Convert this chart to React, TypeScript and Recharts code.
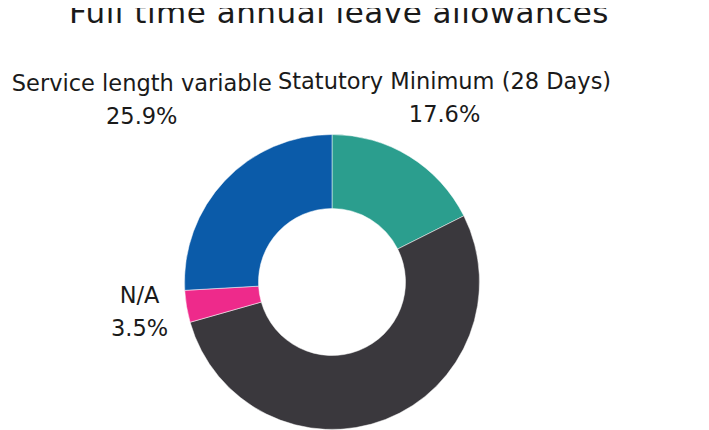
import React from "react";
import { PieChart, Pie, Cell } from "recharts";

const categories = [
  "Statutory Minimum (28 Days)",
  "Enhanced fixed allowance",
  "N/A",
  "Service length variable",
];
const shares = [17.6, 53.0, 3.5, 25.9];
const colors = ["#2b9e8e", "#3a383d", "#ee2a8b", "#0b5ba9"];
const title = "Full time annual leave allowances";

const W = 709;
const H = 430;
const CX = 332;
const CY = 282;
const INNER = 73.5;
const OUTER = 147.5;
const FAMILY = '"DejaVu Sans"';
const FONT = '"DejaVu Sans", sans-serif';
const LABEL_SIZE = 22.5;
const LINE_GAP = 33;
const HALF_H = 28;
const GAP = 6;

const data = categories.map((name, i) => ({ name, value: shares[i] }));

function measure(text: string, size: number): number {
  const ctx = document.createElement("canvas").getContext("2d");
  if (!ctx) return text.length * size * 0.58;
  ctx.font = `${size}px ${FAMILY}`;
  return ctx.measureText(text).width;
}

function placeLabels(): number[] {
  const total = shares.reduce((a, b) => a + b, 0);
  let start = 90;
  const placed: { x0: number; x1: number; y0: number; y1: number }[] = [];
  const radii: number[] = [];
  shares.forEach((v, i) => {
    const sweep = (v / total) * 360;
    const mid = start - sweep / 2;
    start -= sweep;
    const rad = (mid * Math.PI) / 180;
    const c = Math.cos(rad);
    const s = Math.sin(rad);
    const halfW =
      Math.max(measure(categories[i], LABEL_SIZE), measure(v.toFixed(1) + "%", LABEL_SIZE)) / 2;
    const box = (r: number) => ({
      x0: CX + r * c - halfW,
      x1: CX + r * c + halfW,
      y0: CY - r * s - HALF_H,
      y1: CY - r * s + HALF_H,
    });
    let r = OUTER + 43 + HALF_H * Math.abs(s);
    const hits = (b: { x0: number; x1: number; y0: number; y1: number }) =>
      placed.some(
        (p) => b.x0 < p.x1 + GAP && b.x1 + GAP > p.x0 && b.y0 < p.y1 && b.y1 > p.y0
      );
    let guard = 0;
    while (hits(box(r)) && guard < 400) {
      r += 1;
      guard++;
    }
    placed.push(box(r));
    radii.push(r);
  });
  return radii;
}

export default function App() {
  const radii = React.useMemo(() => placeLabels(), []);

  const renderLabel = (props: any) => {
    const { cx, cy, midAngle, index, name, value } = props;
    const r = radii[index];
    const rad = (-midAngle * Math.PI) / 180;
    const x = cx + r * Math.cos(rad);
    const y = cy + r * Math.sin(rad) - 2.5;
    return (
      <text
        x={x}
        y={y}
        textAnchor="middle"
        dominantBaseline="central"
        fill="#1a1a1a"
        fontFamily={FONT}
        fontSize={LABEL_SIZE}
      >
        <tspan x={x} y={y - LINE_GAP / 2}>{name}</tspan>
        <tspan x={x} y={y + LINE_GAP / 2}>{Number(value).toFixed(1) + "%"}</tspan>
      </text>
    );
  };

  return (
    <div style={{ position: "relative", width: W, height: H, margin: "-8px 0 0 -8px", background: "#fff" }}>
      <svg width={W} height={40} style={{ position: "absolute", left: 0, top: 0 }}>
        <text
          x={339}
          y={22.5}
          textAnchor="middle"
          fontFamily={FONT}
          fontSize={31}
          letterSpacing={0.5}
          fill="#1a1a1a"
        >
          {title}
        </text>
      </svg>
      <div style={{ position: "absolute", left: 0, top: 0 }}>
        <PieChart width={W} height={H} margin={{ top: 0, right: 0, bottom: 0, left: 0 }}>
          <Pie
            data={data}
            dataKey="value"
            nameKey="name"
            cx={CX}
            cy={CY}
            innerRadius={INNER}
            outerRadius={OUTER}
            startAngle={90}
            endAngle={-270}
            stroke="#ffffff"
            strokeWidth={0.5}
            label={renderLabel}
            labelLine={false}
            isAnimationActive={false}
          >
            {data.map((d, i) => (
              <Cell key={d.name} fill={colors[i]} />
            ))}
          </Pie>
        </PieChart>
      </div>
    </div>
  );
}
